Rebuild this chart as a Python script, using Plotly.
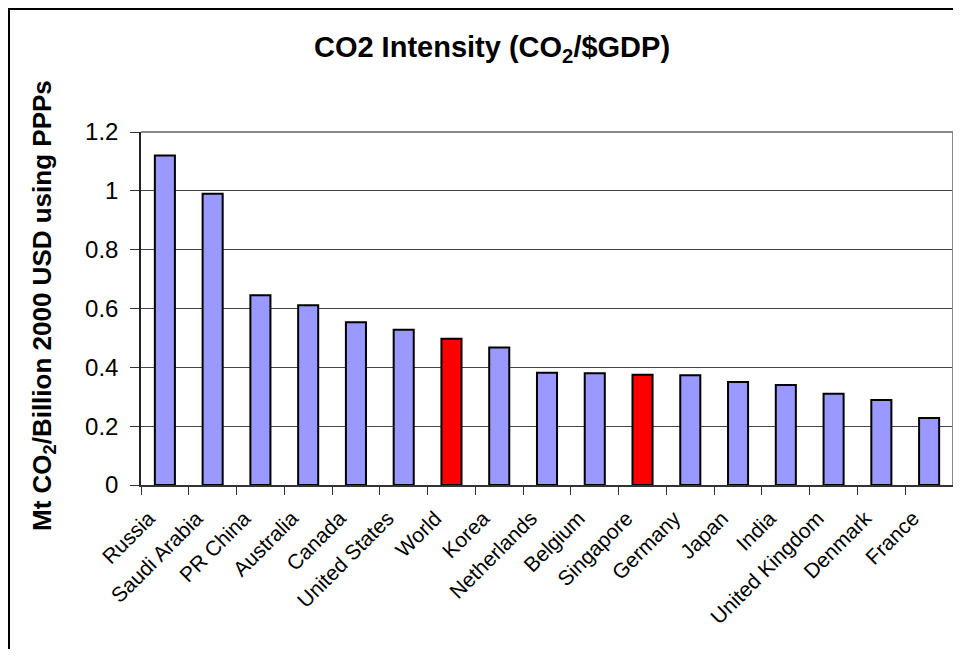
import plotly.graph_objects as go

countries = ["Russia", "Saudi Arabia", "PR China", "Australia", "Canada", "United States",
             "World", "Korea", "Netherlands", "Belgium", "Singapore", "Germany", "Japan",
             "India", "United Kingdom", "Denmark", "France"]
intensity = [1.12, 0.99, 0.645, 0.611, 0.553, 0.528, 0.497, 0.467, 0.382, 0.38, 0.375,
             0.373, 0.35, 0.34, 0.31, 0.289, 0.228]
highlight = ["World", "Singapore"]

colors = ["#FF0000" if c in highlight else "#9999FF" for c in countries]

W, H = 945, 641
L, R, T, B = 133, 0, 124, 164
PW, PH = W - L - R, H - T - B

fig = go.Figure(go.Bar(
    x=countries, y=intensity,
    marker=dict(color=colors, line=dict(color="#000000", width=2)),
    width=0.42,
))

fig.update_layout(
    width=W, height=H,
    margin=dict(l=L, r=R, t=T, b=B, autoexpand=False),
    paper_bgcolor="white", plot_bgcolor="white",
    font=dict(family="Liberation Sans, Arial, sans-serif", color="black"),
    showlegend=False,
    title=dict(text="<b>CO2 Intensity (CO<sub>2</sub>/$GDP)</b>", x=484 / W, xanchor="center",
               y=1 - 39 / H, yanchor="middle", font=dict(size=29)),
    xaxis=dict(
        type="category", tickangle=-45, tickfont=dict(size=21),
        showline=True, linecolor="#333333", linewidth=1.5,
        ticks="outside", ticklen=8, tickcolor="#333333", tickson="boundaries",
        showgrid=False, ticklabelstandoff=11, ticklabelshift=-16,
    ),
    yaxis=dict(
        range=[0, 1.2], dtick=0.2, tickfont=dict(size=24),
        showline=True, linecolor="#222222", linewidth=1.5,
        ticks="outside", ticklen=9, tickcolor="#333333",
        showgrid=True, gridcolor="#444444", gridwidth=1, zeroline=False,
        ticklabelstandoff=7,
    ),
    annotations=[
        dict(text="<b>Mt CO<sub>2</sub>/Billion 2000 USD using PPPs</b>", textangle=-90,
             xref="paper", yref="paper", x=(35 - L) / PW, y=(477 - 298) / PH,
             xanchor="center", yanchor="middle", showarrow=False, font=dict(size=26)),
    ],
    shapes=[
        dict(type="line", xref="paper", yref="paper", x0=0, x1=1, y0=1, y1=1,
             line=dict(color="#888888", width=2)),
        dict(type="line", xref="paper", yref="paper", x0=1, x1=1, y0=0, y1=1,
             line=dict(color="#888888", width=2)),
        dict(type="rect", xref="paper", yref="paper",
             x0=-(L - 1) / PW, x1=1.2, y0=-1.0, y1=(PH + T - 1) / PH,
             line=dict(color="black", width=2), fillcolor="rgba(0,0,0,0)", layer="below"),
    ],
)

fig.write_html("out.html")
